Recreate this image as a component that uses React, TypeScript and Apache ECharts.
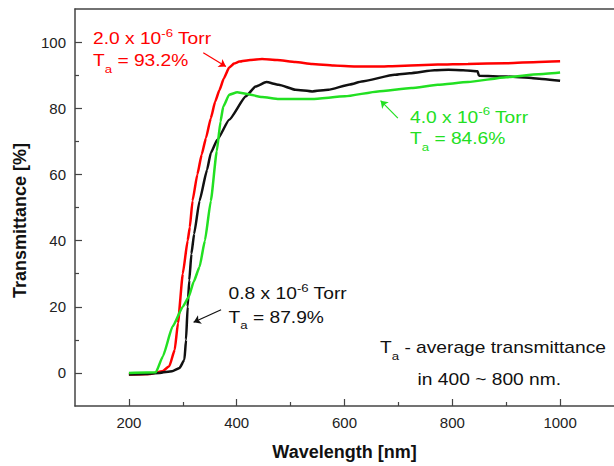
import React, { useEffect, useRef } from "react";
import * as echarts from "echarts";

const FONT = "'Liberation Sans', Arial, sans-serif";

// Wavelength (nm) / transmittance (%) for each base pressure
const redX = [200, 240, 262, 275, 285, 291, 300, 309, 313, 318, 327, 335, 343, 352, 360, 368, 376, 386, 395, 405, 425, 447, 475, 509, 540, 580, 620, 662, 700, 773, 829, 900, 960, 1000];
const redY = [-0.5, -0.3, 0.5, 2, 7, 15, 30, 40, 44, 52, 60, 66, 71, 77, 82, 85.5, 89, 92.3, 93.5, 94.1, 94.6, 94.9, 94.6, 94.0, 93.4, 92.9, 92.6, 92.6, 92.8, 93.2, 93.4, 93.6, 94.0, 94.2];

const blackX = [200, 230, 257, 280, 294, 303, 306, 309, 312, 316, 321, 331, 345, 352, 364, 386, 417, 435, 455, 478, 509, 540, 570, 610, 632, 693, 721, 767, 793, 820, 847, 849, 851, 900, 950, 1000];
const blackY = [-0.5, -0.3, 0, 0.5, 1.5, 4, 10, 20, 28, 36, 42, 52, 61.4, 66.5, 70.5, 76.5, 83.6, 86.6, 87.9, 87.1, 85.6, 85.1, 85.6, 87.2, 88.1, 90.1, 90.6, 91.5, 91.6, 91.5, 91.2, 90.0, 89.8, 89.6, 89.1, 88.3];

const greenX = [200, 250, 263, 281, 300, 311, 320, 331, 341, 352, 363, 370, 375, 386, 401, 417, 447, 478, 540, 601, 662, 724, 773, 829, 900, 960, 1000];
const greenY = [0, 0.2, 5, 14, 20, 23, 27.5, 32, 40, 52, 67, 76, 80.5, 84.1, 84.8, 84.4, 83.4, 82.8, 82.8, 83.6, 85.1, 86.1, 87.1, 87.9, 89.4, 90.3, 90.8];

const xLabelTicks = [200, 400, 600, 800, 1000];
const xMinorTicks = [300, 500, 700, 900];
const yLabelTicks = [0, 20, 40, 60, 80, 100];
const yMinorTicks = [10, 30, 50, 70, 90];

// Annotation arrows: [from, to] in data coordinates
const redArrow = [[338, 96.8], [380, 92.6]];
const greenArrow = [[699, 77.0], [667, 82.3]];
const blackArrow = [[371, 19.1], [320, 15.3]];

const RED = "#ff0000";
const GREEN = "#22e022";
const BLACK = "#111111";

function pairs(xs: number[], ys: number[]) {
  return xs.map((x, i) => [x, ys[i]]);
}

function rich(color: string) {
  return {
    n: { fontSize: 16, lineHeight: 18, padding: [0, 0, 6, 0], verticalAlign: "bottom", fill: color, fontFamily: FONT },
    sup: { fontSize: 11, lineHeight: 12, padding: [0, 0, 14, 0], verticalAlign: "bottom", fill: color, fontFamily: FONT },
    sub: { fontSize: 11, lineHeight: 12, verticalAlign: "bottom", fill: color, fontFamily: FONT },
  };
}

function label(x: number, y: number, text: string, color: string) {
  return {
    type: "text",
    x,
    y,
    scaleX: 1.2,
    silent: true,
    style: { text, rich: rich(color), align: "left", verticalAlign: "bottom", fill: color, font: `16px ${FONT}` },
  };
}

function arrowLine(a: number[][], color: string) {
  return {
    silent: true,
    symbol: ["none", "arrow"],
    symbolSize: 7,
    label: { show: false },
    lineStyle: { color, width: 1.2, type: "solid" },
    emphasis: { disabled: true },
    data: [[{ coord: a[0] }, { coord: a[1] }]],
  };
}

export default function App() {
  const ref = useRef<HTMLDivElement>(null);
  useEffect(() => {
    document.body.style.margin = "0";
    const chart = echarts.init(ref.current!, null, { renderer: "svg" });
    const axisLine = { show: true, onZero: false, lineStyle: { color: "#444", width: 1.5 } };
    const noLine = { show: false, onZero: false };
    const labelStyle = { color: "#222", fontSize: 15, fontFamily: FONT, formatter: (v: number) => String(v) };
    const tickStyle = { color: "#444", width: 1.2 };
    chart.setOption({
      animation: false,
      backgroundColor: "#ffffff",
      grid: { left: 75, right: -4, top: 9, bottom: 60, containLabel: false },
      xAxis: [
        {
          type: "value", min: 100, max: 1100, interval: 100, position: "bottom",
          axisLine, splitLine: { show: false },
          axisTick: { show: true, inside: true, length: 7, customValues: xLabelTicks, lineStyle: tickStyle },
          axisLabel: { ...labelStyle, margin: 9, customValues: xLabelTicks },
          name: "Wavelength [nm]", nameLocation: "middle", nameGap: 37,
          nameTextStyle: { fontSize: 18, fontWeight: "bold", color: "#111", fontFamily: FONT },
        },
        {
          type: "value", min: 100, max: 1100, interval: 100, position: "bottom",
          axisLine: noLine, splitLine: { show: false }, axisLabel: { show: false },
          axisTick: { show: true, inside: true, length: 4, customValues: xMinorTicks, lineStyle: tickStyle },
        },
        {
          type: "value", min: 100, max: 1100, interval: 100, position: "top",
          axisLine, splitLine: { show: false }, axisLabel: { show: false }, axisTick: { show: false },
        },
      ],
      yAxis: [
        {
          type: "value", min: -10, max: 110, interval: 10, position: "left",
          axisLine, splitLine: { show: false },
          axisTick: { show: true, inside: true, length: 7, customValues: yLabelTicks, lineStyle: tickStyle },
          axisLabel: { ...labelStyle, margin: 9, customValues: yLabelTicks },
          name: "Transmittance [%]", nameLocation: "middle", nameGap: 46, nameRotate: 90,
          nameTextStyle: { fontSize: 18, fontWeight: "bold", color: "#111", fontFamily: FONT, padding: [0, 26, 0, 0] },
        },
        {
          type: "value", min: -10, max: 110, interval: 10, position: "left",
          axisLine: noLine, splitLine: { show: false }, axisLabel: { show: false },
          axisTick: { show: true, inside: true, length: 4, customValues: yMinorTicks, lineStyle: tickStyle },
        },
      ],
      series: [
        {
          name: "2.0 x 10^-6 Torr", type: "line", xAxisIndex: 0, yAxisIndex: 0,
          data: pairs(redX, redY), showSymbol: false, smooth: 0.15, smoothMonotone: "x",
          lineStyle: { color: RED, width: 2.5 }, itemStyle: { color: RED },
          markLine: arrowLine(redArrow, RED),
        },
        {
          name: "0.8 x 10^-6 Torr", type: "line", xAxisIndex: 0, yAxisIndex: 0,
          data: pairs(blackX, blackY), showSymbol: false, smooth: 0.15, smoothMonotone: "x",
          lineStyle: { color: BLACK, width: 2.5 }, itemStyle: { color: BLACK },
          markLine: arrowLine(blackArrow, BLACK),
        },
        {
          name: "4.0 x 10^-6 Torr", type: "line", xAxisIndex: 0, yAxisIndex: 0,
          data: pairs(greenX, greenY), showSymbol: false, smooth: 0.15, smoothMonotone: "x",
          lineStyle: { color: GREEN, width: 2.5 }, itemStyle: { color: GREEN },
          markLine: arrowLine(greenArrow, GREEN),
        },
      ],
      graphic: [
        label(93, 52.8, "{n|2.0 x 10}{sup|-6}{n| Torr}", RED),
        label(93, 74.5, "{n|T}{sub|a}{n| = 93.2%}", RED),
        label(410, 131.2, "{n|4.0 x 10}{sup|-6}{n| Torr}", GREEN),
        label(410, 152.8, "{n|T}{sub|a}{n| = 84.6%}", GREEN),
        label(228.6, 307.8, "{n|0.8 x 10}{sup|-6}{n| Torr}", BLACK),
        label(228.6, 331.2, "{n|T}{sub|a}{n| = 87.9%}", BLACK),
        label(380, 362, "{n|T}{sub|a}{n| - average transmittance}", BLACK),
        label(417.6, 394, "{n|in 400 ~ 800 nm.}", BLACK),
      ],
    });
    return () => chart.dispose();
  }, []);
  return <div ref={ref} style={{ width: 614, height: 466, position: "fixed", left: 0, top: 0 }} />;
}
